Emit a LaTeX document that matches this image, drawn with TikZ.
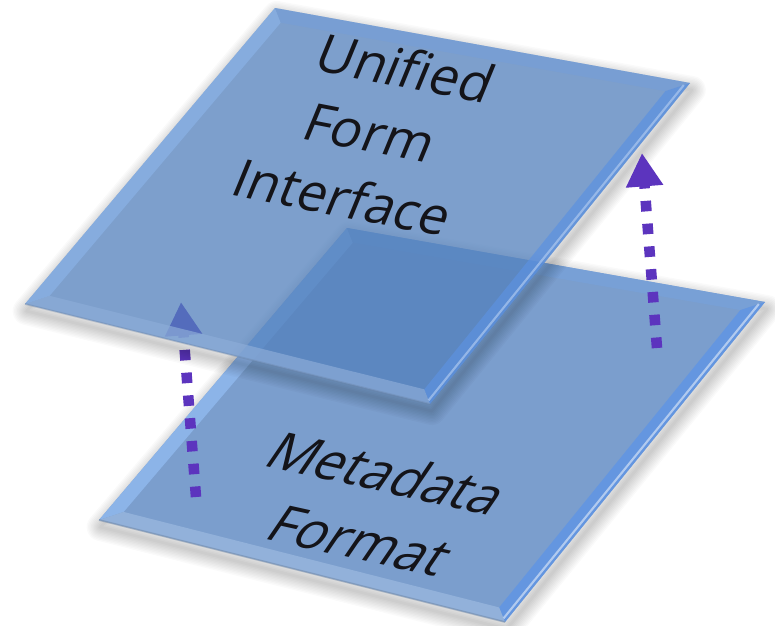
\documentclass[tikz,border=0pt]{standalone}
\usepackage{fontspec}
\newfontfamily\platefont{Open Sans}
\usetikzlibrary{arrows.meta,calc}
\definecolor{arrowpurple}{RGB}{92,52,190}
\definecolor{textblack}{RGB}{20,20,25}

% one bevelled plate: #1 = name prefix, #2 = face opacity, #3 = rim opacity
\newcommand{\plate}[3]{%
\coordinate (#1i1) at ($(#11)!0.037!(#13)$);
\coordinate (#1i2) at ($(#12)!0.037!(#14)$);
\coordinate (#1i3) at ($(#13)!0.037!(#11)$);
\coordinate (#1i4) at ($(#14)!0.037!(#12)$);
% soft shadow, kept outside the plate
\begin{scope}[even odd rule]
\clip (0,0) rectangle (775,626) (#11) -- (#12) -- (#13) -- (#14) -- cycle;
\begin{scope}[transform canvas={yshift=-4pt,xshift=1pt}]
\foreach \k in {1,...,10}
  \draw[black, opacity=0.018, line width=1.6*\k pt, line join=round]
    (#11) -- (#12) -- (#13) -- (#14) -- cycle;
\end{scope}
\end{scope}
\fill[plateface, opacity=#2] (#11) -- (#12) -- (#13) -- (#14) -- cycle;
\fill[plateul, opacity=#3] (#11) -- (#1i1) -- (#1i4) -- (#14) -- cycle;
\fill[plateur, opacity=#3] (#11) -- (#12) -- (#1i2) -- (#1i1) -- cycle;
\fill[plater, opacity=#3] (#12) -- (#13) -- (#1i3) -- (#1i2) -- cycle;
\fill[plateb, opacity=#3] (#13) -- (#14) -- (#1i4) -- (#1i3) -- cycle;
\draw[white!50!plater, opacity=#3, line width=1.2pt] ($(#12)!0.25!(#1i2)$) -- ($(#13)!0.25!(#1i3)$);
\draw[black!25!plateb, opacity=0.5*#3, line width=1pt] (#13) -- (#14);
}

\tikzset{
  toptext/.style={font=\platefont\fontsize{30}{36}\selectfont, text=textblack,
    inner sep=0pt, rotate=-11, xslant=0.2},
  lowtext/.style={font=\platefont\fontsize{30}{36}\selectfont, text=textblack,
    inner sep=0pt, rotate=-12.5, xslant=0.4},
  uparrow/.style={draw=arrowpurple, line width=6pt, dash pattern=on 6pt off 7pt,
    -{Triangle[width=20pt,length=19pt]}}
}

\begin{document}
\begin{tikzpicture}[x=0.02cm, y=-0.02cm]
\useasboundingbox[fill=white] (0,0) rectangle (775,626);

% lower plate
\coordinate (lo1) at (347,228);
\coordinate (lo2) at (765,302);
\coordinate (lo3) at (505,622);
\coordinate (lo4) at (99,520);
\begin{scope}
\definecolor{plateface}{RGB}{123,158,205}
\definecolor{plateul}{RGB}{140,180,232}
\definecolor{plateur}{RGB}{120,160,214}
\definecolor{plater}{RGB}{100,150,224}
\definecolor{plateb}{RGB}{146,177,218}
\plate{lo}{1}{1}
\end{scope}
\node[lowtext] (metadata) at (388,473) {Metadata};
\node[lowtext] (format) at (360,541) {Format};

% left arrow, under the upper plate
\coordinate (la0) at (196,497);
\coordinate (la1) at (181,302);
\draw[uparrow] (la0) -- (la1);

% upper plate
\coordinate (up1) at (275,8);
\coordinate (up2) at (690,83);
\coordinate (up3) at (430,404);
\coordinate (up4) at (25,304);
\begin{scope}
\definecolor{plateface}{RGB}{82,128,188}
\definecolor{plateul}{RGB}{138,178,230}
\definecolor{plateur}{RGB}{118,158,214}
\definecolor{plater}{RGB}{92,145,224}
\definecolor{plateb}{RGB}{140,172,216}
\plate{up}{0.75}{0.7}
\end{scope}
\node[toptext] (unified) at (406,68) {Unified};
\node[toptext] (form) at (370,133) {Form};
\node[toptext] (interface) at (343,197) {Interface};

% right arrow
\coordinate (ra0) at (657,348);
\coordinate (ra1) at (642,153);
\draw[uparrow] (ra0) -- (ra1);
\end{tikzpicture}
\end{document}
